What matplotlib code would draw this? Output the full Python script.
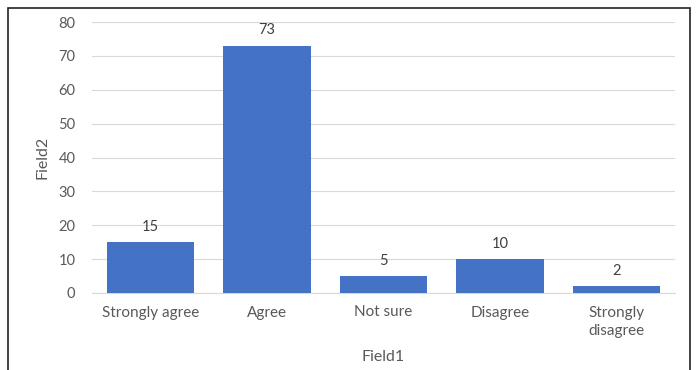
import matplotlib
matplotlib.use("Agg")
import matplotlib.pyplot as plt
from matplotlib.patches import Rectangle

categories = ["Strongly agree", "Agree", "Not sure", "Disagree", "Strongly\ndisagree"]
values = [15, 73, 5, 10, 2]
yticks = [0, 10, 20, 30, 40, 50, 60, 70, 80]

plt.rcParams['font.family'] = ['Lato', 'DejaVu Sans']
gray = "#595959"

fig = plt.figure(figsize=(6.97, 3.70), dpi=100)
fig.patches.append(Rectangle((8/697, -0.1), (690-8)/697, (370-8)/370 + 0.1,
                             transform=fig.transFigure, fill=False,
                             edgecolor="#222222", linewidth=1.2))
ax = fig.add_axes([92/697, 77/370, (675-92)/697, (293-22)/370])
x = list(range(len(categories)))
bars = ax.bar(x, values, width=0.75, color="#4472C4", zorder=3)
for xi, v in zip(x, values):
    ax.text(xi, v + 2.5, str(v), ha="center", va="bottom", fontsize=10.5, color="#404040")
ax.set_xlim(-0.5, len(categories) - 0.5)
ax.set_ylim(0, 80)
ax.set_yticks(yticks)
ax.set_xticks(x)
ax.set_xticklabels(categories, fontsize=11, color=gray, linespacing=1.45)
ax.tick_params(axis='y', labelsize=10.5, labelcolor=gray, length=0, pad=12)
ax.tick_params(axis='x', length=0, pad=9)
ax.grid(axis='y', color="#D9D9D9", linewidth=0.8, zorder=0)
for s in ["top", "right", "left"]:
    ax.spines[s].set_visible(False)
ax.spines["bottom"].set_color("#D9D9D9")
ax.set_ylabel("Field2", fontsize=11.5, color=gray, labelpad=6)
ax.set_xlabel("Field1", fontsize=11.5, color=gray, labelpad=8)
fig.savefig("out.png", dpi=100)
